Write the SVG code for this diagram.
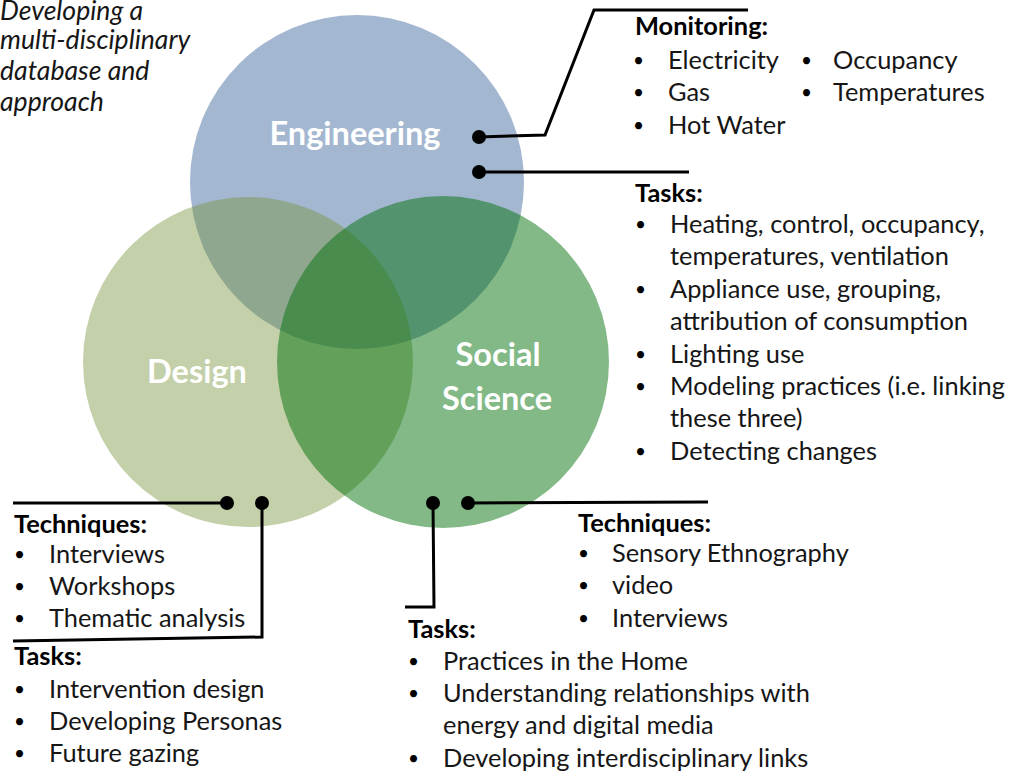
<svg xmlns="http://www.w3.org/2000/svg" width="1010" height="774" viewBox="0 0 1010 774">
<style>
.t{font-family:Lato,"Liberation Sans",sans-serif;font-size:25.4px;fill:#161616}
.h{font-weight:bold;fill:#000}
.it{font-style:italic;font-size:26.6px}
.bu{font-family:Lato,"Liberation Sans",sans-serif;font-size:19px;fill:#000}
.lbl{font-family:Lato,"Liberation Sans",sans-serif;font-weight:bold;font-size:32.5px;fill:#fff;text-anchor:middle}
.ln{stroke:#000;stroke-width:3;fill:none;stroke-linejoin:miter}
.dot{fill:#000}
</style>
<rect width="1010" height="774" fill="#fff"/>
<g id="circles">
<g id="engineering">
<circle cx="357" cy="182" r="167" fill="#a3b7d1"/>
<text class="lbl" x="355" y="145">Engineering</text>
</g>
<g id="design">
<circle cx="248" cy="362" r="165" fill="#77933c" fill-opacity="0.44"/>
<text class="lbl" x="197" y="383">Design</text>
</g>
<g id="social-science">
<circle cx="443" cy="362" r="166" fill="#00700a" fill-opacity="0.49"/>
<text class="lbl" x="498" y="366">Social</text>
<text class="lbl" x="497" y="410">Science</text>
</g>
</g>
<g id="connectors">
<polyline class="ln" points="479,137 545,135 594,10 748,10"/>
<circle class="dot" cx="479" cy="137" r="7"/>
<polyline class="ln" points="479,172 689,172"/>
<circle class="dot" cx="479" cy="172" r="7"/>
<polyline class="ln" points="13,503 227,503"/>
<circle class="dot" cx="227" cy="503" r="7"/>
<polyline class="ln" points="262,503 262,637 13,641"/>
<circle class="dot" cx="262" cy="503" r="7"/>
<polyline class="ln" points="433,503 434,607 405,607"/>
<circle class="dot" cx="433" cy="503" r="7"/>
<polyline class="ln" points="468,503 708,502"/>
<circle class="dot" cx="468" cy="503" r="7"/>
</g>
<g id="intro">
<text class="t it" x="0" y="20">Developing a</text>
<text class="t it" x="0" y="49">multi-disciplinary</text>
<text class="t it" x="0" y="80">database and</text>
<text class="t it" x="0" y="111">approach</text>
</g>
<g id="engineering-monitoring">
<text class="t h" x="635" y="35">Monitoring:</text>
<text class="bu" x="633" y="67">•</text><text class="t" x="668" y="69">Electricity</text>
<text class="bu" x="633" y="99">•</text><text class="t" x="668" y="101">Gas</text>
<text class="bu" x="633" y="132">•</text><text class="t" x="668" y="134">Hot Water</text>
<text class="bu" x="801" y="67">•</text><text class="t" x="833" y="69">Occupancy</text>
<text class="bu" x="801" y="99">•</text><text class="t" x="833" y="101">Temperatures</text>
</g>
<g id="engineering-tasks">
<text class="t h" x="635" y="202">Tasks:</text>
<text class="bu" x="635" y="231">•</text><text class="t" x="670" y="233">Heating, control, occupancy,</text>
<text class="t" x="670" y="265">temperatures, ventilation</text>
<text class="bu" x="635" y="296">•</text><text class="t" x="670" y="298">Appliance use, grouping,</text>
<text class="t" x="670" y="330">attribution of consumption</text>
<text class="bu" x="635" y="361">•</text><text class="t" x="670" y="363">Lighting use</text>
<text class="bu" x="635" y="393">•</text><text class="t" x="670" y="395">Modeling practices (i.e. linking</text>
<text class="t" x="670" y="427">these three)</text>
<text class="bu" x="635" y="458">•</text><text class="t" x="670" y="460">Detecting changes</text>
</g>
<g id="design-techniques">
<text class="t h" x="14" y="533">Techniques:</text>
<text class="bu" x="14" y="561">•</text><text class="t" x="49" y="563">Interviews</text>
<text class="bu" x="14" y="593">•</text><text class="t" x="49" y="595">Workshops</text>
<text class="bu" x="14" y="625">•</text><text class="t" x="49" y="627">Thematic analysis</text>
</g>
<g id="design-tasks">
<text class="t h" x="14" y="665">Tasks:</text>
<text class="bu" x="14" y="696">•</text><text class="t" x="49" y="698">Intervention design</text>
<text class="bu" x="14" y="728">•</text><text class="t" x="49" y="730">Developing Personas</text>
<text class="bu" x="14" y="760">•</text><text class="t" x="49" y="762">Future gazing</text>
</g>
<g id="social-techniques">
<text class="t h" x="578" y="532">Techniques:</text>
<text class="bu" x="578" y="560">•</text><text class="t" x="612" y="562">Sensory Ethnography</text>
<text class="bu" x="578" y="592">•</text><text class="t" x="612" y="594">video</text>
<text class="bu" x="578" y="625">•</text><text class="t" x="612" y="627">Interviews</text>
</g>
<g id="social-tasks">
<text class="t h" x="408" y="638">Tasks:</text>
<text class="bu" x="408" y="668">•</text><text class="t" x="443" y="670">Practices in the Home</text>
<text class="bu" x="408" y="700">•</text><text class="t" x="443" y="702">Understanding relationships with</text>
<text class="t" x="443" y="734">energy and digital media</text>
<text class="bu" x="408" y="765">•</text><text class="t" x="443" y="767">Developing interdisciplinary links</text>
</g>
</svg>
